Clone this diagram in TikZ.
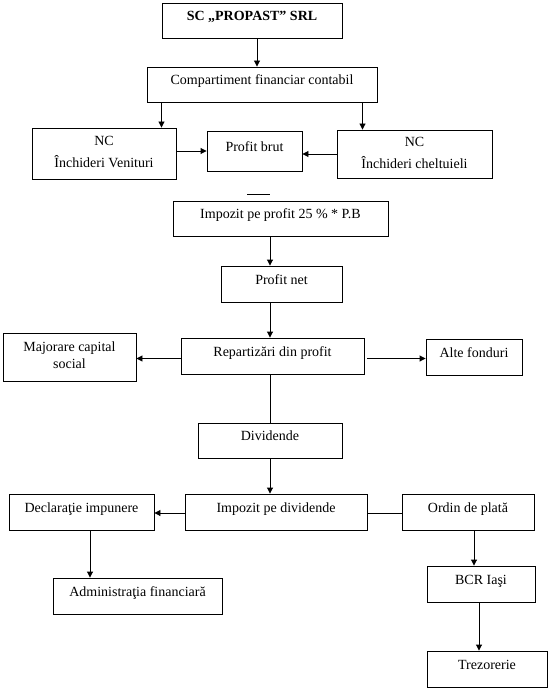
\documentclass[tikz,border=0pt]{standalone}
\usepackage{fontspec}
\setmainfont{Liberation Serif}
\usepackage{tikz}
\usetikzlibrary{
  calc,          % shifted points
  arrows.meta    % filled triangle tips
}

\begin{document}
\begin{tikzpicture}[x=1pt,y=-1pt,
    box/.style={draw, line width=0.9pt, inner sep=0pt, align=center,
      font=\fontsize{14}{16.8}\selectfont, text height=9pt, text depth=9pt},
    twobox/.style={draw, line width=0.9pt, inner sep=0pt,
      font=\fontsize{14}{16.8}\selectfont},
    arr/.style={line width=0.9pt, -{Triangle[width=6pt,length=6pt]}},
    ln/.style={line width=0.9pt}]
  \useasboundingbox (0,0) rectangle (549,690);
  \node[box, minimum width=180, minimum height=35, font=\fontsize{14}{16.8}\selectfont\bfseries] (sc) at (252,20.5) {SC „PROPAST” SRL};
  \node[box, minimum width=230, minimum height=35] (comp) at (262,84.5) {Compartiment financiar contabil};
  \node[twobox, minimum width=144, minimum height=51] (ncv) at (104,153.5)
    {\raisebox{2pt}{\begin{tabular}{@{}c@{}}NC\\[5pt]Închideri Venituri\end{tabular}}};
  \node[box, minimum width=95, minimum height=40] (pb) at (254.5,151) {Profit brut};
  \node[twobox, minimum width=155, minimum height=48] (ncc) at (414.5,154)
    {\raisebox{2pt}{\begin{tabular}{@{}c@{}}NC\\[5pt]Închideri cheltuieli\end{tabular}}};
  \node[box, minimum width=215, minimum height=34.5] (imp) at (280.5,218.75) {Impozit pe profit 25 \% * P.B};
  \node[box, minimum width=121, minimum height=36] (pn) at (281.5,284) {Profit net};
  \node[box, minimum width=183, minimum height=36] (rep) at (272.5,356) {Repartizări din profit};
  \node[twobox, minimum width=133, minimum height=48] (maj) at (69.5,357)
    {\begin{tabular}{@{}c@{}}Majorare capital\\social\end{tabular}};
  \node[box, minimum width=96, minimum height=36] (alte) at (474,357) {Alte fonduri};
  \node[box, minimum width=144, minimum height=35] (div) at (270,440.5) {Dividende};
  \node[box, minimum width=182, minimum height=36] (impd) at (276,512) {Impozit pe dividende};
  \node[box, minimum width=145, minimum height=36] (decl) at (81.5,512) {Declaraţie impunere};
  \node[box, minimum width=132, minimum height=36] (ordin) at (468,512) {Ordin de plată};
  \node[box, minimum width=169, minimum height=36] (admin) at (137.5,596) {Administraţia financiară};
  \node[box, minimum width=108, minimum height=36] (bcr) at (481,584) {BCR Iaşi};
  \node[box, minimum width=120, minimum height=36] (trez) at (487,669) {Trezorerie};

  \coordinate (axis) at (270,0);
  \coordinate (cs) at (257,0);
  \coordinate (ca) at (161.5,0);
  \coordinate (cb) at (362.5,0);
  \coordinate (cr) at (0,358.5);
  \coordinate (cr2) at ([xshift=3pt]rep.east);
  \coordinate (cd) at (0,513);
  \coordinate (cx) at (90,0);
  \coordinate (co) at (474,0);
  \coordinate (ct) at (479,0);

  \draw[arr] (sc.south -| cs) -- (comp.north -| cs);
  \draw[arr] (comp.south -| ca) -- (ncv.north -| ca);
  \draw[arr] (comp.south -| cb) -- (ncc.north -| cb);
  \draw[arr] (ncv.east |- pb.west) -- (pb.west);
  \draw[arr] (ncc.west) -- (ncc.west -| pb.east);
  \draw[ln] (247,194) -- (270,194);
  \draw[arr] (imp.south -| axis) -- (pn.north -| axis);
  \draw[arr] (pn.south -| axis) -- (rep.north -| axis);
  \draw[arr] (rep.west |- cr) -- (maj.east |- cr);
  \draw[arr] (cr2 |- cr) -- (alte.west |- cr);
  \draw[ln] (rep.south -| axis) -- (div.north -| axis);
  \draw[arr] (div.south -| axis) -- (impd.north -| axis);
  \draw[arr] (impd.west |- cd) -- (decl.east |- cd);
  \draw[ln] (impd.east |- cd) -- (ordin.west |- cd);
  \draw[arr] (decl.south -| cx) -- (admin.north -| cx);
  \draw[arr] (ordin.south -| co) -- (bcr.north -| co);
  \draw[arr] (bcr.south -| ct) -- (trez.north -| ct);
\end{tikzpicture}
\end{document}
